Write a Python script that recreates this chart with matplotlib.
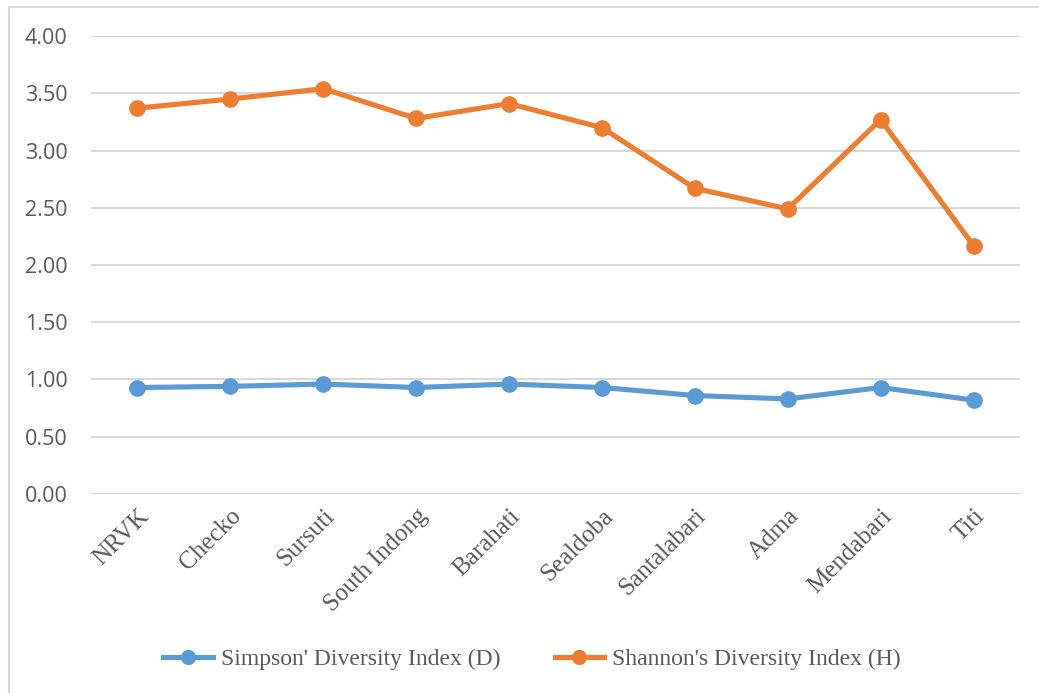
import matplotlib.pyplot as plt
from matplotlib.lines import Line2D
from matplotlib.transforms import ScaledTranslation

sites = ['NRVK', 'Checko', 'Sursuti', 'South Indong', 'Barahati', 'Sealdoba',
         'Santalabari', 'Adma', 'Mendabari', 'Titi']
simpson = [0.93, 0.94, 0.96, 0.93, 0.96, 0.93, 0.86, 0.83, 0.93, 0.82]
shannon = [3.37, 3.45, 3.54, 3.28, 3.41, 3.20, 2.67, 2.49, 3.27, 2.17]
yticks = [0.0, 0.5, 1.0, 1.5, 2.0, 2.5, 3.0, 3.5, 4.0]

blue = '#5b9bd5'
orange = '#ed7d31'

fig = plt.figure(figsize=(10.39, 6.93), dpi=100)
ax = fig.add_axes([0.0876, 0.2872, 0.8941, 0.6608])

x = list(range(len(sites)))
ax.plot(x, simpson, color=blue, linewidth=3.7, marker='o', markersize=11,
        label="Simpson' Diversity Index (D)")
ax.plot(x, shannon, color=orange, linewidth=3.7, marker='o', markersize=11,
        label="Shannon's Diversity Index (H)")

ax.set_xlim(-0.5, len(sites) - 0.5)
ax.set_ylim(0, 4)
ax.set_yticks(yticks)
ax.set_yticklabels(['%.2f' % v for v in yticks], fontsize=15.5, color='#595959',
                   fontfamily='Open Sans')
ax.set_xticks(x)
ax.set_xticklabels(sites, rotation=45, ha='right', rotation_mode='anchor',
                   fontsize=18, color='#595959', fontfamily='Liberation Serif')
shift = ScaledTranslation(-5 / 100, 0, fig.dpi_scale_trans)
for lbl in ax.get_xticklabels():
    lbl.set_transform(lbl.get_transform() + shift)
ax.tick_params(axis='both', length=0)
ax.tick_params(axis='y', pad=17)
ax.tick_params(axis='x', pad=8)
ax.yaxis.grid(True, color='#d9d9d9', linewidth=1.5)
ax.set_axisbelow(True)
for s in ax.spines.values():
    s.set_visible(False)

leg = fig.legend(loc='center', bbox_to_anchor=(532 / 1039, 1 - 659 / 693), ncol=2,
                 frameon=False, handlelength=2.1, handletextpad=0.35,
                 columnspacing=2.3, markerscale=0.9,
                 prop={'family': 'Liberation Serif', 'size': 17})
for t in leg.get_texts():
    t.set_color('#595959')

# outer frame (only left and top visible)
fig.add_artist(Line2D([8.5 / 1039, 8.5 / 1039], [0, 1 - 6.5 / 693],
                      transform=fig.transFigure, color='#d9d9d9', linewidth=1.5))
fig.add_artist(Line2D([8.5 / 1039, 1], [1 - 6.5 / 693, 1 - 6.5 / 693],
                      transform=fig.transFigure, color='#d9d9d9', linewidth=1.5))

fig.savefig('out.png', dpi=100)
